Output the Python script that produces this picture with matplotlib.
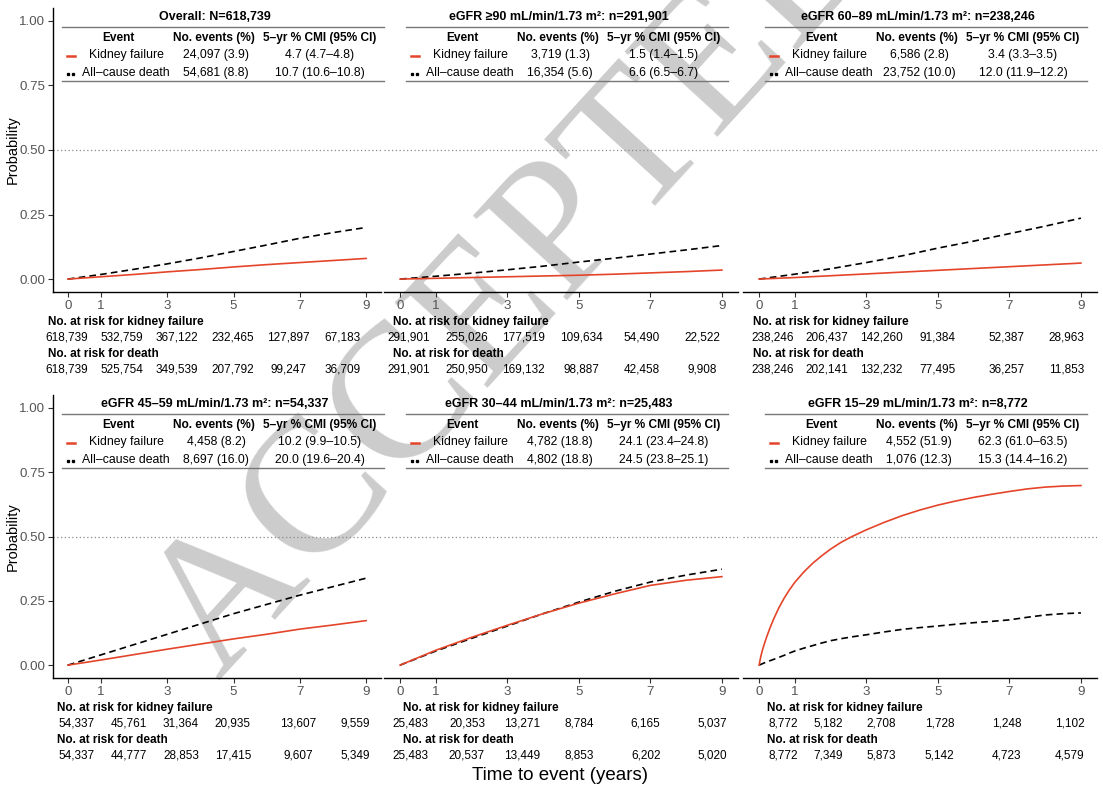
import matplotlib
matplotlib.use('Agg')
import matplotlib.pyplot as plt
from matplotlib.lines import Line2D
from matplotlib import transforms

plt.rcParams['font.family'] = ['Liberation Sans', 'DejaVu Sans']

# ---------------- data ----------------
titles = [
    "Overall: N=618,739",
    "eGFR \u226590 mL/min/1.73 m\u00b2: n=291,901",
    "eGFR 60\u201389 mL/min/1.73 m\u00b2: n=238,246",
    "eGFR 45\u201359 mL/min/1.73 m\u00b2: n=54,337",
    "eGFR 30\u201344 mL/min/1.73 m\u00b2: n=25,483",
    "eGFR 15\u201329 mL/min/1.73 m\u00b2: n=8,772",
]
event_names = ["Kidney failure", "All\u2013cause death"]
kf_events = ["24,097 (3.9)", "3,719 (1.3)", "6,586 (2.8)", "4,458 (8.2)", "4,782 (18.8)", "4,552 (51.9)"]
death_events = ["54,681 (8.8)", "16,354 (5.6)", "23,752 (10.0)", "8,697 (16.0)", "4,802 (18.8)", "1,076 (12.3)"]
kf_cmi = ["4.7 (4.7\u20134.8)", "1.5 (1.4\u20131.5)", "3.4 (3.3\u20133.5)", "10.2 (9.9\u201310.5)",
          "24.1 (23.4\u201324.8)", "62.3 (61.0\u201363.5)"]
death_cmi = ["10.7 (10.6\u201310.8)", "6.6 (6.5\u20136.7)", "12.0 (11.9\u201312.2)", "20.0 (19.6\u201320.4)",
             "24.5 (23.8\u201325.1)", "15.3 (14.4\u201316.2)"]

risk_kf = [
    ["618,739", "532,759", "367,122", "232,465", "127,897", "67,183"],
    ["291,901", "255,026", "177,519", "109,634", "54,490", "22,522"],
    ["238,246", "206,437", "142,260", "91,384", "52,387", "28,963"],
    ["54,337", "45,761", "31,364", "20,935", "13,607", "9,559"],
    ["25,483", "20,353", "13,271", "8,784", "6,165", "5,037"],
    ["8,772", "5,182", "2,708", "1,728", "1,248", "1,102"],
]
risk_death = [
    ["618,739", "525,754", "349,539", "207,792", "99,247", "36,709"],
    ["291,901", "250,950", "169,132", "98,887", "42,458", "9,908"],
    ["238,246", "202,141", "132,232", "77,495", "36,257", "11,853"],
    ["54,337", "44,777", "28,853", "17,415", "9,607", "5,349"],
    ["25,483", "20,537", "13,449", "8,853", "6,202", "5,020"],
    ["8,772", "7,349", "5,873", "5,142", "4,723", "4,579"],
]

t_year = [0, 1, 2, 3, 4, 5, 6, 7, 8, 9]
t_fine = [0, 0.05, 0.1, 0.2, 0.3, 0.4, 0.55, 0.7, 0.85, 1, 1.25, 1.5, 1.75, 2, 2.3, 2.6,
          3, 3.5, 4, 4.5, 5, 5.5, 6, 6.5, 7, 7.5, 8, 8.5, 9]

curve_times = [t_year, t_year, t_year, t_year, t_year, t_fine]
kf_curves = [
    [0, 0.009, 0.018, 0.028, 0.037, 0.047, 0.056, 0.064, 0.072, 0.080],
    [0, 0.003, 0.006, 0.009, 0.012, 0.015, 0.019, 0.024, 0.029, 0.035],
    [0, 0.006, 0.013, 0.020, 0.027, 0.034, 0.041, 0.048, 0.055, 0.062],
    [0, 0.020, 0.041, 0.062, 0.082, 0.102, 0.120, 0.140, 0.156, 0.173],
    [0, 0.058, 0.108, 0.155, 0.200, 0.241, 0.277, 0.310, 0.330, 0.344],
    [0, 0.035, 0.062, 0.105, 0.143, 0.177, 0.222, 0.260, 0.293, 0.322, 0.362, 0.396, 0.425,
     0.451, 0.478, 0.500, 0.526, 0.555, 0.581, 0.603, 0.622, 0.638, 0.652, 0.664, 0.675,
     0.685, 0.692, 0.696, 0.698],
]
death_curves = [
    [0, 0.018, 0.038, 0.059, 0.082, 0.107, 0.132, 0.158, 0.180, 0.200],
    [0, 0.011, 0.023, 0.036, 0.050, 0.066, 0.081, 0.097, 0.113, 0.130],
    [0, 0.019, 0.040, 0.064, 0.090, 0.120, 0.147, 0.176, 0.205, 0.236],
    [0, 0.040, 0.080, 0.120, 0.160, 0.200, 0.236, 0.272, 0.305, 0.338],
    [0, 0.055, 0.104, 0.152, 0.200, 0.245, 0.287, 0.323, 0.350, 0.373],
    [0, 0.003, 0.006, 0.012, 0.017, 0.022, 0.030, 0.038, 0.047, 0.055, 0.066, 0.076, 0.086,
     0.095, 0.103, 0.110, 0.118, 0.129, 0.139, 0.146, 0.152, 0.159, 0.165, 0.170, 0.176,
     0.186, 0.195, 0.200, 0.203],
]

xticks = [0, 1, 3, 5, 7, 9]
yticks = [0, 0.25, 0.5, 0.75, 1.0]
ytick_labels = ["0.00", "0.25", "0.50", "0.75", "1.00"]

# ---------------- layout ----------------
W, H = 1103, 788
fig = plt.figure(figsize=(W / 100, H / 100), dpi=100)
RED = '#E4452A'
GREY_TXT = '#555555'

def fx(px):
    return px / W

def fy(py):
    return 1 - py / H

cols_px = [(53, 381), (384, 738), (743, 1097)]
rows_px = [(8, 292), (395, 678)]
# risk table column positions (data x) per panel
risk_cols = [
    [-0.03, 1.63, 3.29, 4.98, 6.65, 8.28],
    [0.25, 1.87, 3.46, 5.06, 6.76, 8.46],
    [0.39, 1.90, 3.42, 4.99, 6.92, 8.60],
    [0.27, 1.84, 3.41, 4.98, 6.95, 8.67],
    [0.28, 1.87, 3.41, 5.00, 6.87, 8.72],
    [0.67, 1.93, 3.42, 5.04, 6.92, 8.68],
]
risk_head_x = [-0.6, -0.2, -0.17, -0.33, 0.08, 0.22]

FS_TAB = 8.8
FS_HEAD = 8.6
FS_RISK = 8.5
FS_TICK = 9.6

# watermark (behind everything)
fig.text(fx(518), fy(284), "ACCEPTED", rotation=47.5, fontsize=138,
         family=['Liberation Serif', 'DejaVu Serif'], color='#CCCCCC',
         ha='center', va='center', zorder=-5)

for i in range(6):
    r, c = divmod(i, 3)
    l, rr = cols_px[c]
    t, b = rows_px[r]
    ax = fig.add_axes([fx(l), fy(b), (rr - l) / W, (b - t) / H])
    ax.patch.set_alpha(0)
    ax.set_xlim(-0.45, 9.45)
    ax.set_ylim(-0.05, 1.05)
    ax.axhline(0.5, color='#8A8A8A', lw=0.9, ls=(0, (1, 2)), zorder=1)
    ax.plot(curve_times[i], death_curves[i], color='black', lw=1.2,
            ls=(0, (4, 2.5)), zorder=3)
    ax.plot(curve_times[i], kf_curves[i], color=RED, lw=1.2, zorder=4)

    for s in ['top', 'right']:
        ax.spines[s].set_visible(False)
    ax.spines['bottom'].set_linewidth(1.0)
    ax.spines['left'].set_linewidth(1.0)
    ax.set_xticks(xticks)
    ax.set_xticklabels([str(x) for x in xticks])
    ax.tick_params(axis='x', length=3.5, width=0.8, color='#333333',
                   labelsize=FS_TICK, labelcolor=GREY_TXT, pad=2)
    if c == 0:
        ax.set_yticks(yticks)
        ax.set_yticklabels(ytick_labels)
        ax.tick_params(axis='y', length=3.5, width=0.8, color='#333333',
                       labelsize=FS_TICK, labelcolor=GREY_TXT, pad=2)
        ax.set_ylabel("Probability", fontsize=10.5)
        ax.yaxis.set_label_coords((20 - l) / (rr - l), 0.5)
    else:
        ax.spines['left'].set_visible(False)
        ax.set_yticks([])

    # ---- summary table inside panel ----
    cx = (l + rr) / 2
    tl = cx - 155
    tr = tl + 322
    fig.text(fx(cx - 2), fy(t + 9), titles[i], fontsize=9, fontweight='bold',
             ha='center', va='center')
    for yy in (t + 19, t + 73):
        fig.add_artist(Line2D([fx(tl), fx(tr)], [fy(yy), fy(yy)],
                              transform=fig.transFigure, color='#777777', lw=1.0))
    hy = t + 30
    fig.text(fx(tl + 56), fy(hy), "Event", fontsize=FS_HEAD, fontweight='bold', ha='center', va='center')
    fig.text(fx(tl + 152), fy(hy), "No. events (%)", fontsize=FS_HEAD, fontweight='bold', ha='center', va='center')
    fig.text(fx(tl + 258), fy(hy), "5\u2013yr % CMI (95% CI)", fontsize=FS_HEAD, fontweight='bold', ha='center', va='center')
    rows = [(t + 47, event_names[0], kf_events[i], kf_cmi[i]),
            (t + 65, event_names[1], death_events[i], death_cmi[i])]
    for k, (yy, nm, ev, cm) in enumerate(rows):
        fig.text(fx(tl + 64), fy(yy), nm, fontsize=FS_TAB, ha='center', va='center')
        fig.text(fx(tl + 154), fy(yy), ev, fontsize=FS_TAB, ha='center', va='center')
        fig.text(fx(tl + 258), fy(yy), cm, fontsize=FS_TAB, ha='center', va='center')
    fig.add_artist(Line2D([fx(tl + 5), fx(tl + 13)], [fy(t + 48), fy(t + 48)],
                          transform=fig.transFigure, color=RED, lw=1.8))
    fig.add_artist(Line2D([fx(tl + 5.5), fx(tl + 10.5)], [fy(t + 66), fy(t + 66)],
                          transform=fig.transFigure, color='black', lw=0,
                          marker='s', markersize=1.4))

    # ---- risk tables ----
    trans = transforms.blended_transform_factory(ax.transData, fig.transFigure)
    ax.text(risk_head_x[i], fy(b + 30), "No. at risk for kidney failure", transform=trans,
            fontsize=FS_RISK, fontweight='bold', ha='left', va='center', clip_on=False)
    ax.text(risk_head_x[i], fy(b + 62), "No. at risk for death", transform=trans,
            fontsize=FS_RISK, fontweight='bold', ha='left', va='center', clip_on=False)
    for j in range(6):
        ax.text(risk_cols[i][j], fy(b + 46), risk_kf[i][j], transform=trans,
                fontsize=FS_RISK, ha='center', va='center', clip_on=False)
        ax.text(risk_cols[i][j], fy(b + 77), risk_death[i][j], transform=trans,
                fontsize=FS_RISK, ha='center', va='center', clip_on=False)

fig.text(fx(560), fy(776), "Time to event (years)", fontsize=13.5, ha='center', va='center')

fig.savefig('out.png', dpi=100)
